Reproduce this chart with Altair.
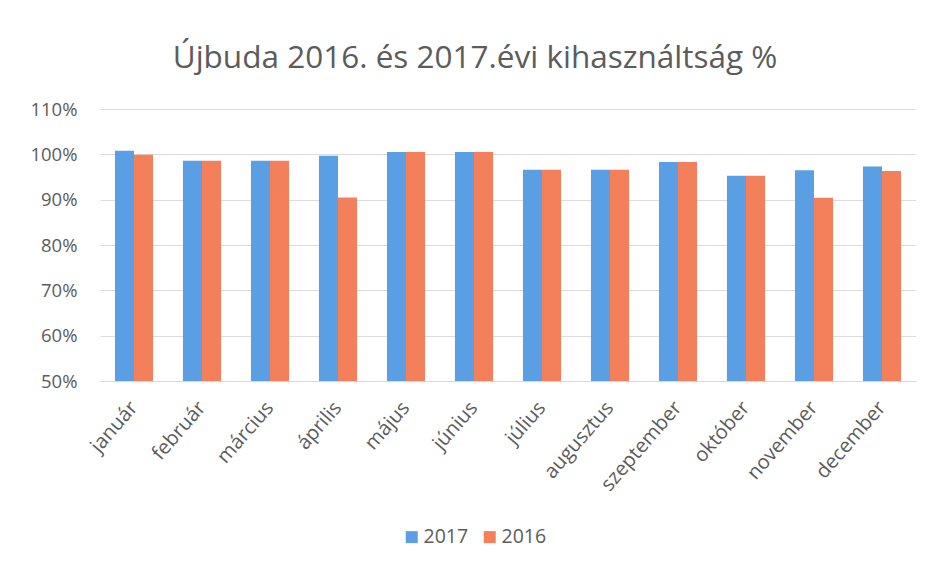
import altair as alt
import pandas as pd

months = ["január", "február", "március", "április", "május", "június",
          "július", "augusztus", "szeptember", "október", "november", "december"]
years = ["2017", "2016"]
v2017 = [1.008, 0.986, 0.986, 0.997, 1.005, 1.005, 0.966, 0.966, 0.983, 0.953, 0.965, 0.973]
v2016 = [0.999, 0.986, 0.986, 0.905, 1.005, 1.005, 0.966, 0.966, 0.983, 0.953, 0.904, 0.963]
y_ticks = [0.5, 0.6, 0.7, 0.8, 0.9, 1.0, 1.1]
colors = ["#5a9fe3", "#f3805b"]

df = pd.DataFrame({
    "hónap": months * 2,
    "év": ["2017"] * 12 + ["2016"] * 12,
    "érték": v2017 + v2016,
})

FONT = "Open Sans"
TXT = "#5c5c5c"

chart = alt.Chart(df).mark_bar(clip=True).encode(
    x=alt.X("hónap:N", sort=months,
            scale=alt.Scale(paddingInner=0.44, paddingOuter=0.22),
            axis=alt.Axis(title=None, labelAngle=311, labelAlign="right", labelBaseline="middle",
                          labelPadding=23, ticks=False, domain=True, domainColor="#d9d9d9",
                          labelFontSize=20, labelColor=TXT, labelFont=FONT)),
    xOffset=alt.XOffset("év:N", sort=years, scale=alt.Scale(paddingInner=0, paddingOuter=0)),
    y=alt.Y("érték:Q", scale=alt.Scale(domain=[0.5, 1.1], zero=False, nice=False),
            axis=alt.Axis(title=None, format="%", values=y_ticks, ticks=False, domain=False,
                          gridColor="#dcdcdc", labelPadding=23, labelFontSize=18.5,
                          labelColor=TXT, labelFont=FONT)),
    color=alt.Color("év:N", sort=years, scale=alt.Scale(domain=years, range=colors),
                    legend=alt.Legend(title=None, orient="none", direction="horizontal",
                                      legendX=302, legendY=418, symbolType="square",
                                      symbolSize=144, symbolStrokeWidth=0, labelFontSize=19.5,
                                      labelColor=TXT, labelFont=FONT, columnPadding=11,
                                      labelOffset=2)),
).properties(
    width=816, height=272,
    padding={"left": 92, "top": 101, "right": 9, "bottom": 177},
    autosize=alt.AutoSizeParams(type="none"),
    title=alt.TitleParams(text="Újbuda 2016. és 2017.évi kihasználtság %", fontSize=31.5,
                          font=FONT, fontWeight="normal", color=TXT, anchor="middle",
                          dx=-33, offset=26),
).configure_view(stroke=None)

chart.save("out.html", embed_options={"renderer": "svg", "actions": False})
